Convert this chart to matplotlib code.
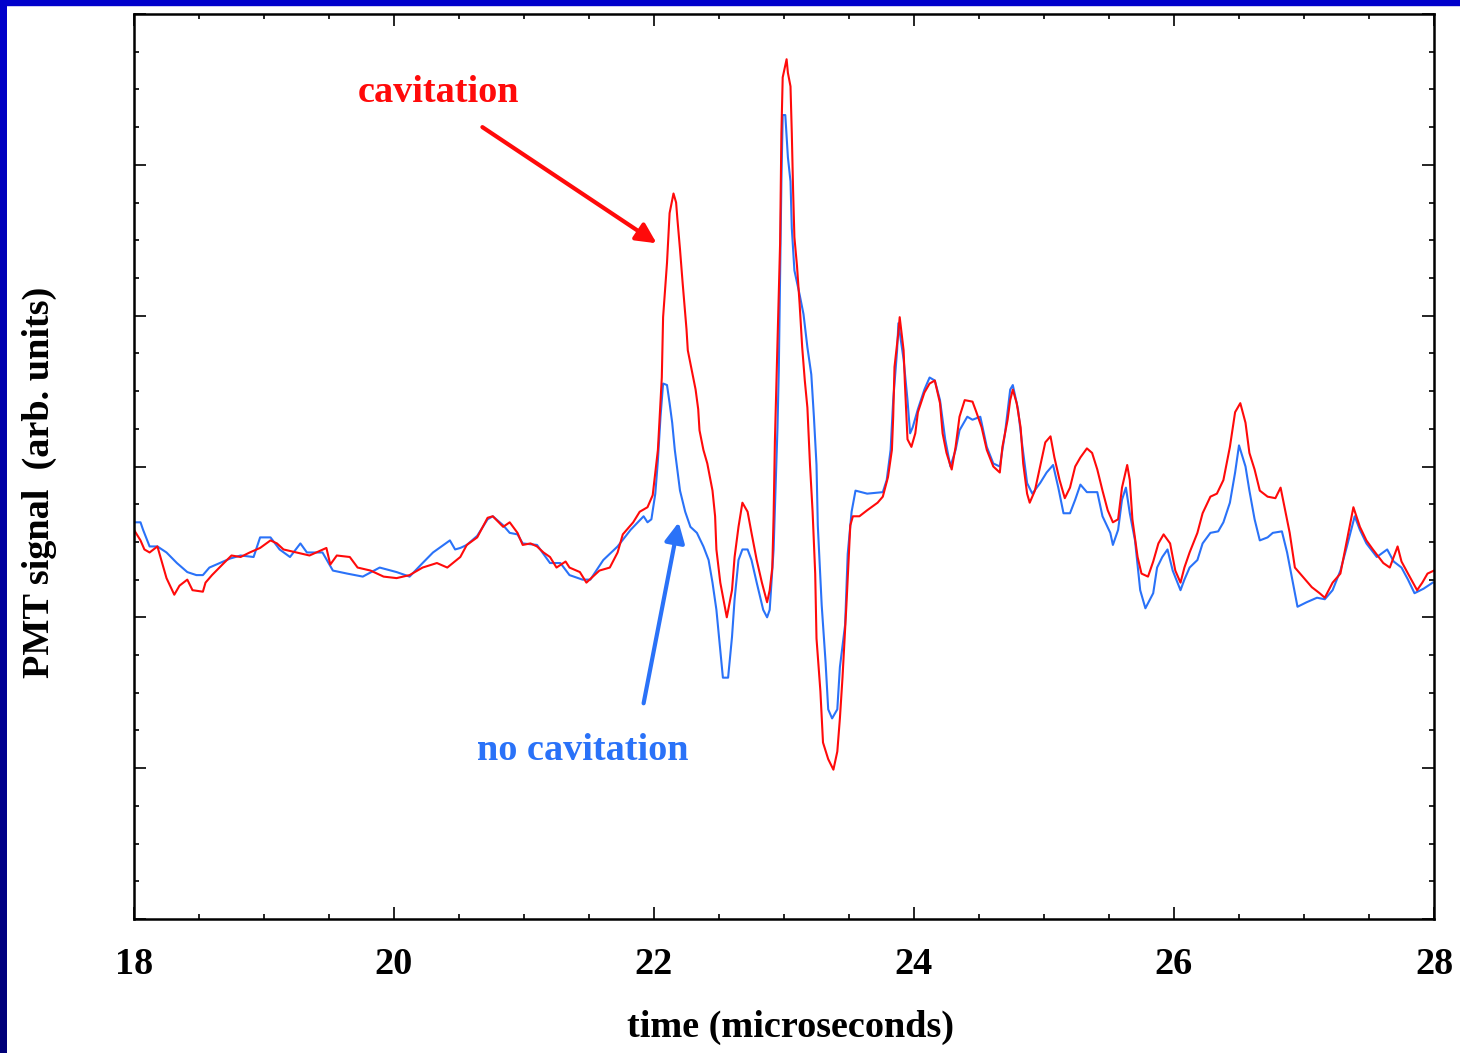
import numpy as np
import matplotlib
matplotlib.use("Agg")
import matplotlib.pyplot as plt
from matplotlib.patches import Rectangle
from matplotlib.ticker import MultipleLocator

plt.rcParams["font.family"] = "Liberation Serif"
plt.rcParams["font.weight"] = "bold"
plt.rcParams["axes.labelweight"] = "bold"
plt.rcParams["font.size"] = 27.5

# PMT traces, time in microseconds, signal in arbitrary units
t_cav = [18.00, 18.05, 18.08, 18.12, 18.18, 18.22, 18.25, 18.31, 18.35, 18.41,
         18.45, 18.53, 18.55, 18.60, 18.68, 18.75, 18.82, 18.89, 18.97, 19.05,
         19.10, 19.15, 19.25, 19.35, 19.48, 19.51, 19.56, 19.66, 19.72, 19.82,
         19.92, 20.02, 20.12, 20.22, 20.33, 20.41, 20.51, 20.56, 20.64, 20.72,
         20.76, 20.84, 20.89, 20.95, 20.99, 21.05, 21.10, 21.15, 21.20, 21.25,
         21.32, 21.35, 21.43, 21.48, 21.53, 21.58, 21.66, 21.72, 21.76, 21.84,
         21.89, 21.95, 21.99, 22.03, 22.06, 22.07, 22.10, 22.12, 22.15, 22.17,
         22.18, 22.20, 22.22, 22.25, 22.26, 22.29, 22.32, 22.34, 22.35, 22.38,
         22.41, 22.45, 22.47, 22.48, 22.51, 22.56, 22.60, 22.62, 22.65, 22.68,
         22.72, 22.75, 22.79, 22.83, 22.87, 22.89, 22.91, 22.92, 22.93, 22.95,
         22.97, 22.98, 22.99, 23.02, 23.03, 23.05, 23.06, 23.07, 23.08, 23.10,
         23.12, 23.14, 23.16, 23.18, 23.20, 23.22, 23.24, 23.25, 23.28, 23.30,
         23.34, 23.38, 23.41, 23.43, 23.45, 23.48, 23.51, 23.53, 23.58, 23.64,
         23.72, 23.76, 23.80, 23.83, 23.84, 23.85, 23.88, 23.89, 23.92, 23.93,
         23.95, 23.98, 24.01, 24.03, 24.08, 24.12, 24.16, 24.20, 24.22, 24.25,
         24.29, 24.32, 24.35, 24.39, 24.45, 24.48, 24.52, 24.56, 24.61, 24.66,
         24.68, 24.72, 24.74, 24.76, 24.79, 24.82, 24.84, 24.87, 24.89, 24.93,
         24.97, 25.01, 25.05, 25.08, 25.12, 25.16, 25.20, 25.24, 25.28, 25.33,
         25.37, 25.41, 25.45, 25.49, 25.53, 25.57, 25.60, 25.64, 25.66, 25.68,
         25.72, 25.75, 25.80, 25.84, 25.88, 25.92, 25.97, 26.01, 26.05, 26.08,
         26.12, 26.18, 26.22, 26.28, 26.33, 26.38, 26.43, 26.47, 26.51, 26.55,
         26.58, 26.62, 26.66, 26.72, 26.78, 26.82, 26.85, 26.89, 26.93, 26.99,
         27.06, 27.12, 27.16, 27.22, 27.28, 27.33, 27.38, 27.43, 27.48, 27.53,
         27.61, 27.66, 27.72, 27.75, 27.80, 27.87, 27.91, 27.95, 28.00]
s_cav = [2.58, 2.51, 2.45, 2.43, 2.47, 2.35, 2.26, 2.15, 2.21, 2.25,
         2.18, 2.17, 2.23, 2.28, 2.35, 2.41, 2.40, 2.43, 2.46, 2.51,
         2.49, 2.45, 2.43, 2.41, 2.46, 2.35, 2.41, 2.40, 2.33, 2.31,
         2.27, 2.26, 2.28, 2.33, 2.36, 2.33, 2.40, 2.48, 2.53, 2.66,
         2.67, 2.60, 2.63, 2.56, 2.48, 2.49, 2.47, 2.43, 2.40, 2.33,
         2.37, 2.33, 2.30, 2.23, 2.27, 2.31, 2.33, 2.43, 2.55, 2.63,
         2.70, 2.73, 2.81, 3.11, 3.59, 3.99, 4.35, 4.68, 4.81, 4.75,
         4.64, 4.44, 4.22, 3.91, 3.77, 3.64, 3.51, 3.38, 3.24, 3.11,
         3.02, 2.84, 2.67, 2.45, 2.23, 2.00, 2.18, 2.40, 2.60, 2.76,
         2.70, 2.56, 2.38, 2.23, 2.10, 2.18, 2.33, 2.67, 3.17, 3.83,
         4.48, 5.21, 5.58, 5.70, 5.61, 5.52, 5.21, 4.83, 4.52, 4.33,
         4.08, 3.79, 3.57, 3.39, 3.01, 2.70, 2.29, 1.86, 1.51, 1.17,
         1.06, 0.99, 1.11, 1.33, 1.60, 2.08, 2.61, 2.67, 2.67, 2.71,
         2.76, 2.80, 2.93, 3.11, 3.33, 3.66, 3.89, 3.99, 3.77, 3.55,
         3.18, 3.13, 3.22, 3.36, 3.49, 3.55, 3.57, 3.42, 3.22, 3.09,
         2.98, 3.13, 3.33, 3.44, 3.43, 3.36, 3.26, 3.11, 3.00, 2.96,
         3.13, 3.31, 3.44, 3.51, 3.42, 3.26, 3.02, 2.82, 2.76, 2.84,
         3.00, 3.16, 3.20, 3.06, 2.91, 2.79, 2.86, 3.00, 3.06, 3.12,
         3.09, 2.98, 2.84, 2.71, 2.63, 2.65, 2.86, 3.01, 2.91, 2.65,
         2.40, 2.29, 2.27, 2.37, 2.49, 2.55, 2.49, 2.31, 2.23, 2.33,
         2.43, 2.56, 2.69, 2.80, 2.82, 2.91, 3.13, 3.36, 3.42, 3.29,
         3.09, 2.98, 2.84, 2.80, 2.79, 2.86, 2.73, 2.56, 2.33, 2.27,
         2.20, 2.16, 2.13, 2.23, 2.29, 2.51, 2.73, 2.60, 2.51, 2.45,
         2.36, 2.33, 2.47, 2.37, 2.29, 2.18, 2.23, 2.29, 2.31]

t_nocav = [18.00, 18.05, 18.07, 18.12, 18.18, 18.25, 18.33, 18.41, 18.48, 18.53,
           18.58, 18.66, 18.74, 18.82, 18.92, 18.97, 19.05, 19.12, 19.20, 19.28,
           19.33, 19.45, 19.53, 19.64, 19.76, 19.89, 20.02, 20.12, 20.22, 20.30,
           20.43, 20.47, 20.51, 20.56, 20.64, 20.72, 20.76, 20.84, 20.89, 20.95,
           20.99, 21.10, 21.20, 21.28, 21.35, 21.45, 21.51, 21.61, 21.72, 21.82,
           21.92, 21.95, 21.98, 22.01, 22.03, 22.05, 22.07, 22.10, 22.12, 22.14,
           22.16, 22.20, 22.24, 22.28, 22.33, 22.38, 22.42, 22.45, 22.48, 22.51,
           22.53, 22.57, 22.60, 22.62, 22.65, 22.68, 22.72, 22.75, 22.79, 22.84,
           22.87, 22.89, 22.92, 22.95, 22.96, 22.98, 22.99, 23.01, 23.03, 23.05,
           23.06, 23.08, 23.12, 23.15, 23.18, 23.21, 23.23, 23.25, 23.26, 23.29,
           23.32, 23.34, 23.37, 23.41, 23.43, 23.47, 23.49, 23.52, 23.55, 23.64,
           23.76, 23.79, 23.82, 23.84, 23.87, 23.88, 23.92, 23.95, 23.97, 23.99,
           24.03, 24.08, 24.12, 24.16, 24.20, 24.24, 24.28, 24.32, 24.35, 24.41,
           24.45, 24.51, 24.56, 24.61, 24.66, 24.70, 24.74, 24.76, 24.80, 24.83,
           24.87, 24.91, 24.97, 25.02, 25.07, 25.11, 25.15, 25.20, 25.24, 25.28,
           25.33, 25.41, 25.45, 25.51, 25.53, 25.57, 25.60, 25.63, 25.66, 25.70,
           25.74, 25.78, 25.84, 25.87, 25.91, 25.95, 25.99, 26.05, 26.08, 26.12,
           26.18, 26.22, 26.28, 26.34, 26.38, 26.43, 26.47, 26.50, 26.55, 26.58,
           26.62, 26.66, 26.72, 26.76, 26.83, 26.87, 26.91, 26.95, 27.02, 27.10,
           27.16, 27.22, 27.28, 27.33, 27.39, 27.43, 27.48, 27.56, 27.64, 27.69,
           27.75, 27.80, 27.85, 27.92, 27.99]
s_nocav = [2.63, 2.63, 2.58, 2.47, 2.47, 2.43, 2.36, 2.30, 2.28, 2.28,
           2.33, 2.36, 2.39, 2.41, 2.40, 2.53, 2.53, 2.45, 2.40, 2.49,
           2.43, 2.43, 2.31, 2.29, 2.27, 2.33, 2.30, 2.27, 2.36, 2.43,
           2.51, 2.45, 2.46, 2.48, 2.54, 2.65, 2.67, 2.61, 2.56, 2.55,
           2.49, 2.48, 2.36, 2.36, 2.28, 2.25, 2.25, 2.38, 2.47, 2.58,
           2.67, 2.63, 2.65, 2.82, 3.04, 3.33, 3.55, 3.54, 3.42, 3.29,
           3.11, 2.84, 2.70, 2.60, 2.56, 2.47, 2.38, 2.23, 2.05, 1.78,
           1.60, 1.60, 1.87, 2.12, 2.38, 2.45, 2.45, 2.38, 2.23, 2.05,
           2.00, 2.05, 2.45, 3.26, 3.64, 4.89, 5.33, 5.33, 5.05, 4.89,
           4.58, 4.30, 4.14, 4.01, 3.79, 3.61, 3.33, 3.01, 2.61, 2.08,
           1.70, 1.39, 1.33, 1.39, 1.67, 1.95, 2.42, 2.70, 2.84, 2.82,
           2.83, 2.91, 3.11, 3.44, 3.77, 3.95, 3.71, 3.44, 3.22, 3.26,
           3.38, 3.51, 3.59, 3.57, 3.44, 3.18, 3.00, 3.11, 3.24, 3.33,
           3.31, 3.33, 3.13, 3.02, 3.00, 3.22, 3.51, 3.54, 3.38, 3.16,
           2.89, 2.82, 2.89, 2.96, 3.01, 2.86, 2.69, 2.69, 2.78, 2.88,
           2.83, 2.83, 2.67, 2.56, 2.48, 2.58, 2.78, 2.86, 2.69, 2.51,
           2.18, 2.06, 2.16, 2.33, 2.40, 2.45, 2.31, 2.18, 2.25, 2.33,
           2.38, 2.49, 2.56, 2.57, 2.63, 2.76, 2.96, 3.14, 3.00, 2.84,
           2.65, 2.51, 2.53, 2.56, 2.57, 2.43, 2.25, 2.07, 2.10, 2.13,
           2.12, 2.18, 2.31, 2.47, 2.67, 2.58, 2.49, 2.40, 2.45, 2.37,
           2.33, 2.25, 2.16, 2.19, 2.23]

red = "#ff0a0a"
blue = "#2a72f8"

fig = plt.figure(figsize=(14.6, 10.53), dpi=100)

# blue frame along the top and left edges of the slide
fig.patches.append(Rectangle((0, 1 - 5 / 1053), 1, 5 / 1053, transform=fig.transFigure,
                             color="#0000cc", zorder=0))
edge = fig.add_axes([0, 0, 6.5 / 1460, 1])
grad = np.linspace(0, 1, 256).reshape(-1, 1)
edge.imshow(grad, aspect="auto", extent=[0, 1, 0, 1], origin="upper",
            cmap=matplotlib.colors.LinearSegmentedColormap.from_list("edge", ["#0000cc", "#000078"]))
edge.axis("off")

ax = fig.add_axes([134 / 1460, 1 - 919 / 1053, 1300 / 1460, 905 / 1053])
ax.plot(t_nocav, s_nocav, color=blue, lw=1.5)
ax.plot(t_cav, s_cav, color=red, lw=1.5)

ax.set_xlim(18, 28)
ax.set_ylim(0, 6)
ax.xaxis.set_major_locator(MultipleLocator(2))
ax.xaxis.set_minor_locator(MultipleLocator(0.5))
ax.yaxis.set_major_locator(MultipleLocator(1))
ax.yaxis.set_minor_locator(MultipleLocator(0.25))
ax.tick_params(which="both", direction="in", top=True, right=True, width=1.2)
ax.tick_params(which="major", length=8.5)
ax.tick_params(which="minor", length=3.5)
ax.tick_params(axis="x", pad=20)
ax.set_yticklabels([])
for sp in ax.spines.values():
    sp.set_linewidth(1.8)

ax.set_xlabel("time (microseconds)", labelpad=20)
ax.set_ylabel("PMT signal  (arb. units)", labelpad=52)
ax.xaxis.label.set_x(0.505)
ax.yaxis.label.set_y(0.483)

ax.text(20.34, 5.48, "cavitation", color=red, ha="center", va="center")
ax.text(21.45, 1.12, "no cavitation", color=blue, ha="center", va="center")
ax.annotate("", xy=(22.02, 4.48), xytext=(20.68, 5.25),
            arrowprops=dict(arrowstyle="-|>", color=red, lw=3, mutation_scale=30,
                            shrinkA=0, shrinkB=0))
ax.annotate("", xy=(22.19, 2.63), xytext=(21.92, 1.43),
            arrowprops=dict(arrowstyle="-|>", color=blue, lw=3, mutation_scale=30,
                            shrinkA=0, shrinkB=0))

fig.savefig("out.png", dpi=100)
